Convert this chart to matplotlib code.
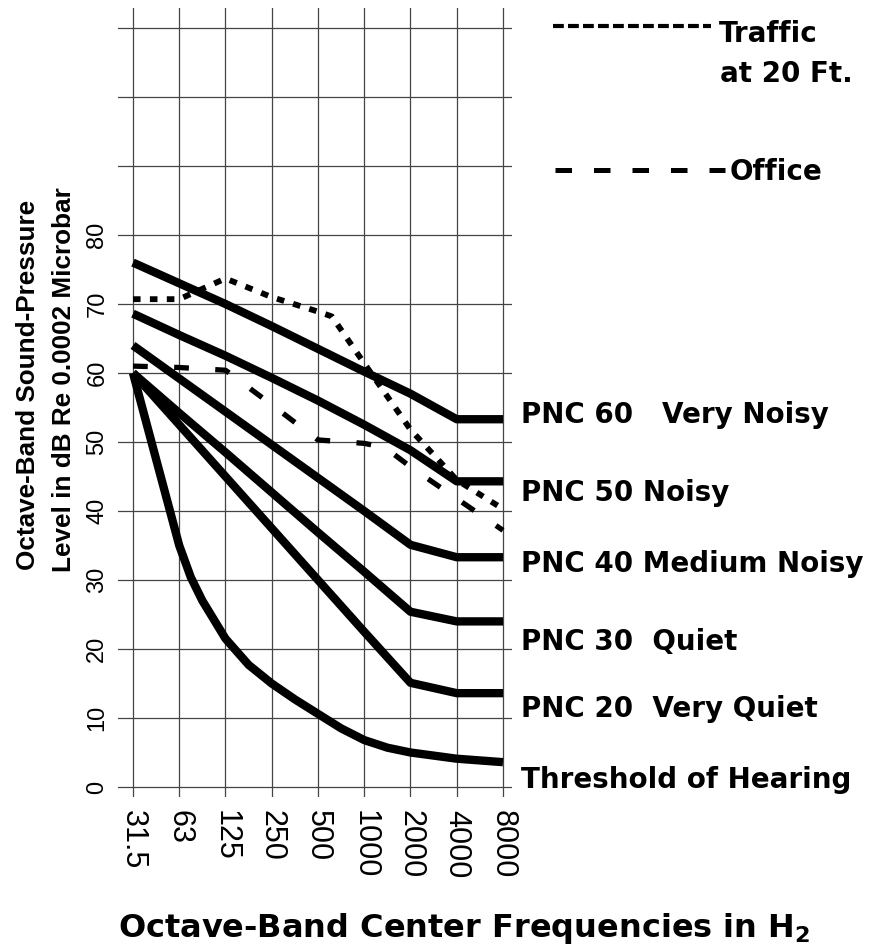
import matplotlib
matplotlib.use("Agg")
import matplotlib.pyplot as plt

# octave bands (plotted at equal spacing, index 0..8)
bands = ['31.5', '63', '125', '250', '500', '1000', '2000', '4000', '8000']
band_x = list(range(len(bands)))

# PNC curves, dB per band
pnc60 = [76, 73, 70, 66.8, 63.5, 60.2, 57, 53.3, 53.3]
pnc50 = [68.6, 65.5, 62.5, 59.3, 56, 52.5, 48.8, 44.3, 44.3]
pnc40 = [64, 59.2, 54.4, 49.6, 44.8, 40, 35.1, 33.3, 33.3]
pnc30 = [60, 54.2, 48.5, 42.7, 36.9, 31.2, 25.4, 24, 24]
pnc20 = [60, 52.5, 45, 37.5, 30, 22.5, 15.1, 13.6, 13.6]

# threshold of hearing is a smooth curve, so read at extra points
thresh_x = [0, 0.4, 0.8, 1, 1.25, 1.5, 2, 2.5, 3, 3.5, 4, 4.5, 5, 5.5, 6, 7, 8]
thresh_db = [60, 50, 40, 35, 30.4, 27, 21.5, 17.7, 15, 12.7, 10.6, 8.5, 6.8, 5.7, 5.0, 4.1, 3.6]

# measured spectra
traffic_x = [0, 1, 2, 3, 4, 4.3, 5, 6, 7, 8]
traffic_db = [70.7, 70.7, 73.7, 71, 68.9, 68.2, 61.4, 51.8, 44.5, 40.3]
office_x = [0, 1, 2, 3, 4, 5, 5.45, 6, 7, 8]
office_db = [61, 60.8, 60.4, 55.4, 50.3, 49.8, 49.2, 46.4, 41.8, 37.2]

curve_labels = ['PNC 60   Very Noisy', 'PNC 50 Noisy', 'PNC 40 Medium Noisy',
                'PNC 30  Quiet', 'PNC 20  Very Quiet', 'Threshold of Hearing']
label_base = [52.8, 41.4, 31.1, 19.9, 10.1, -0.1]

y_ticks = list(range(0, 111, 10))
y_ticklabels = [str(v) if v <= 80 else '' for v in y_ticks]

sans = ['Liberation Sans', 'DejaVu Sans']
bold = ['DejaVu Sans']

fig = plt.figure(figsize=(8.91, 9.51), dpi=100)
ax = fig.add_axes([118 / 891, 1 - 797 / 951, (512 - 118) / 891, (797 - 8) / 951])

ax.set_xlim(-0.324, 8.195)
ax.set_ylim(-1.45, 112.9)
ax.set_xticks(band_x)
ax.set_xticklabels(bands, rotation=-90, fontsize=22, family=sans,
                   va='top', ha='center')
ax.set_yticks(y_ticks)
ax.set_yticklabels(y_ticklabels, rotation=90, fontsize=17, family=sans, va='center')
ax.tick_params(length=0)
ax.tick_params(axis='x', pad=9)
ax.tick_params(axis='y', pad=7)
ax.grid(True, color='#444444', lw=0.9)
for s in ax.spines.values():
    s.set_visible(False)

for vals in [pnc60, pnc50, pnc40, pnc30, pnc20]:
    ax.plot(band_x, vals, color='black', lw=6, solid_joinstyle='round',
            solid_capstyle='butt', zorder=3)
ax.plot(thresh_x, thresh_db, color='black', lw=6, solid_joinstyle='round',
        solid_capstyle='butt', zorder=3)

ax.plot(traffic_x, traffic_db, color='black', lw=4.2, linestyle=(0, (1.3, 1.6)),
        dash_capstyle='butt', zorder=4)
ax.plot(office_x, office_db, color='black', lw=3.8, linestyle=(0, (2.8, 5)),
        dash_capstyle='butt', zorder=4)

for txt, yb in zip(curve_labels, label_base):
    ax.text(8.39, yb, txt, fontsize=20, weight='bold', family=bold,
            va='baseline', ha='left', clip_on=False)

# legend drawn above the curves, right of the grid
ax.plot([9.08, 12.5], [110.3, 110.3], color='black', lw=3.0,
        linestyle=(0, (2.6, 1.0)), dash_capstyle='butt', clip_on=False)
ax.text(12.67, 108.0, 'Traffic', fontsize=20, weight='bold', family=bold,
        va='baseline', ha='left', clip_on=False)
ax.text(12.69, 102.2, 'at 20 Ft.', fontsize=20, weight='bold', family=bold,
        va='baseline', ha='left', clip_on=False)
ax.plot([9.124, 12.81], [89.4, 89.4], color='black', lw=3.6,
        linestyle=(0, (3.3, 4.4)), dash_capstyle='butt', clip_on=False)
ax.text(12.9, 88.0, 'Office', fontsize=20, weight='bold', family=bold,
        va='baseline', ha='left', clip_on=False)

fig.text(28 / 891, 1 - 570 / 951, 'Octave-Band Sound-Pressure', rotation=90,
         rotation_mode='anchor', ha='left', va='center', fontsize=18.8,
         weight='bold', family=sans)
fig.text(64 / 891, 1 - 572 / 951, 'Level in dB Re 0.0002 Microbar', rotation=90,
         rotation_mode='anchor', ha='left', va='center', fontsize=18.8,
         weight='bold', family=sans)
fig.text(118 / 891, 1 - 937 / 951, 'Octave-Band Center Frequencies in H$_\\mathbf{2}$',
         ha='left', va='baseline', fontsize=23, weight='bold', family=bold)

fig.savefig('out.png', dpi=100)
